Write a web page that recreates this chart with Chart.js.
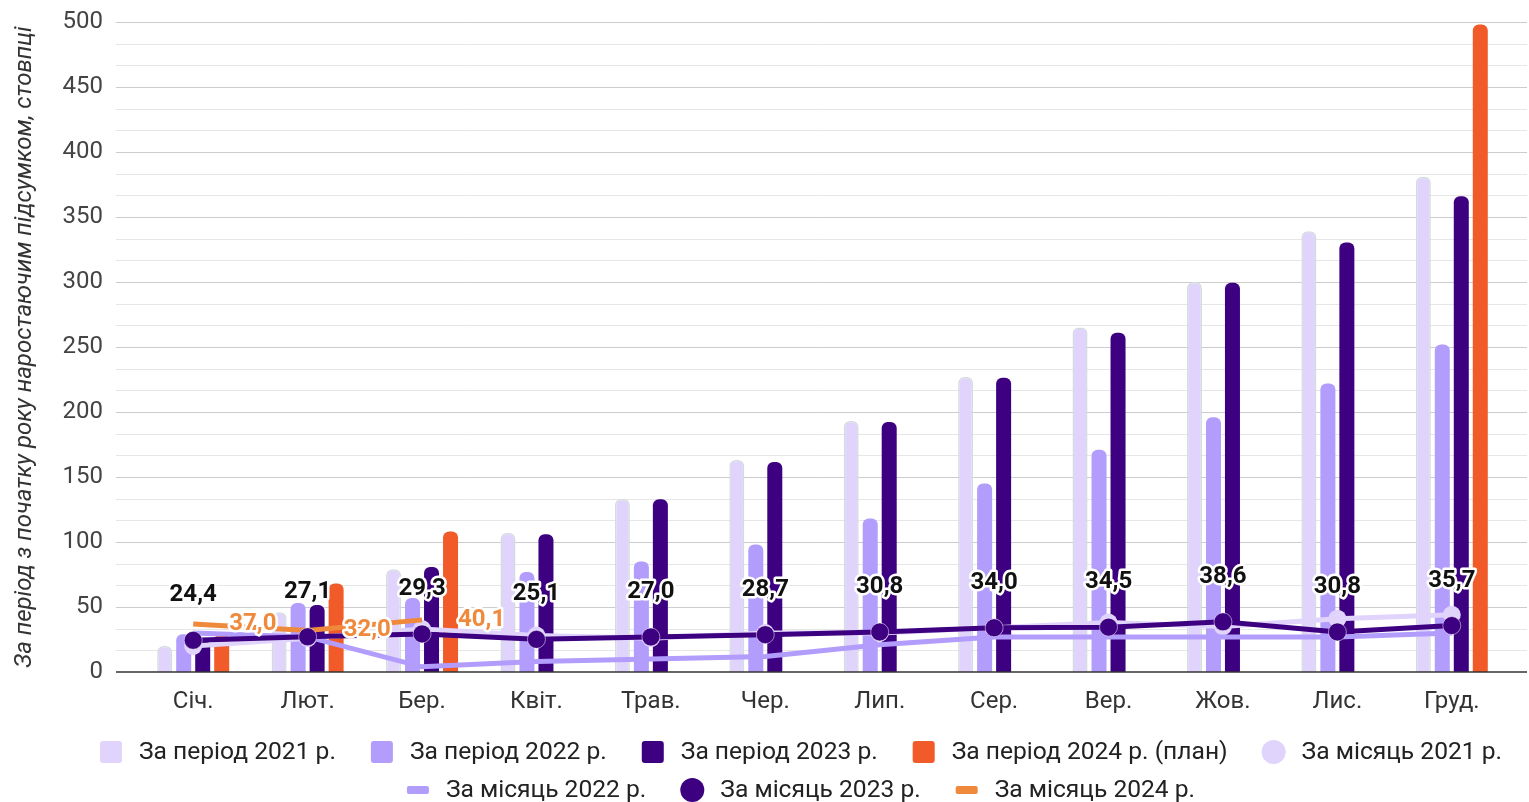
<!DOCTYPE html>
<html>
<head>
<meta charset="utf-8">
<script src="https://cdn.jsdelivr.net/npm/chart.js@4.4.1/dist/chart.umd.min.js"></script>
<style>
  html, body { margin: 0; padding: 0; background: #fff; }
  #wrap { width: 1529px; height: 802px; }
</style>
</head>
<body>
<div id="wrap"><canvas id="chart" width="1529" height="802"></canvas></div>
<script>
// months
const months = ['Січ.', 'Лют.', 'Бер.', 'Квіт.', 'Трав.', 'Чер.', 'Лип.', 'Сер.', 'Вер.', 'Жов.', 'Лис.', 'Груд.'];

// cumulative totals (bars)
const period2021 = [20, 46, 79, 107, 133, 163, 193, 227, 265, 300, 339, 381];
const period2022 = [29, 53, 57, 77, 85, 98, 118, 145, 171, 196, 222, 252];
const period2023 = [24.4, 51.5, 80.8, 105.9, 132.9, 161.6, 192.4, 226.4, 260.9, 299.5, 330.3, 366.0];
const period2024plan = [29, 68, 108, null, null, null, null, null, null, null, null, 498];

// monthly values (lines)
const month2021 = [20, 26, 33, 28, 26, 30, 30, 34, 38, 35, 41, 44];
const month2022 = [30, 27, 4, 8, 10, 12, 21, 27, 27, 27, 27, 30];
const month2023 = [24.4, 27.1, 29.3, 25.1, 27.0, 28.7, 30.8, 34.0, 34.5, 38.6, 30.8, 35.7];
const month2024 = [37.0, 32.0, 40.1, null, null, null, null, null, null, null, null, null];

const yTicksMax = 500;
const yTicksStep = 50;

const C_2021 = '#e0d3fc';
const C_2022 = '#b29cfc';
const C_2023 = '#3c0080';
const C_2024 = '#f15a29';
const C_2024_LINE = '#ef8a3d';

// legend marker per dataset, two rows like the original
const legendKinds = ['box', 'box', 'box', 'box', 'circle', 'line', 'circle', 'line'];
const legendColors = [C_2021, C_2022, C_2023, C_2024, C_2021, C_2022, C_2023, C_2024_LINE];
const legendRows = [[0, 1, 2, 3, 4], [5, 6, 7]];

const fmt = v => v.toFixed(1).replace('.', ',');

// gridlines: majors every 50, two minor lines in between, stretched a bit past the plot
const gridPlugin = {
    id: 'grid',
    beforeDatasetsDraw(chart) {
        const y = chart.scales.y;
        const area = chart.chartArea;
        const ctx = chart.ctx;
        ctx.save();
        for (let i = 1; i <= 30; i++) {
            const v = i * yTicksStep / 3;
            const py = Math.round(y.getPixelForValue(v)) + 0.5;
            ctx.strokeStyle = i % 3 === 0 ? '#cccccc' : '#e6e6e6';
            ctx.lineWidth = 1;
            ctx.beginPath();
            ctx.moveTo(area.left - 20, py);
            ctx.lineTo(area.right + 18, py);
            ctx.stroke();
        }
        ctx.restore();
    },
    afterDatasetsDraw(chart) {
        const y = chart.scales.y;
        const area = chart.chartArea;
        const ctx = chart.ctx;
        const py = y.getPixelForValue(0);
        ctx.save();
        ctx.strokeStyle = '#333';
        ctx.lineWidth = 1.5;
        ctx.beginPath();
        ctx.moveTo(area.left - 20, py);
        ctx.lineTo(area.right + 18, py);
        ctx.stroke();
        ctx.restore();
    }
};

// value labels for 2023 monthly (above) and 2024 monthly (right side)
const labelPlugin = {
    id: 'valueLabels',
    afterDatasetsDraw(chart) {
        const ctx = chart.ctx;
        ctx.save();
        ctx.font = 'bold 24px Roboto';
        ctx.lineJoin = 'round';
        ctx.lineWidth = 5;
        ctx.strokeStyle = '#fff';

        const m23 = chart.getDatasetMeta(6);
        ctx.textAlign = 'center';
        ctx.textBaseline = 'middle';
        m23.data.forEach((pt, i) => {
            const t = fmt(month2023[i]);
            ctx.strokeText(t, pt.x, pt.y - 45);
            ctx.fillStyle = '#111';
            ctx.fillText(t, pt.x, pt.y - 45);
        });

        const m24 = chart.getDatasetMeta(7);
        ctx.textAlign = 'left';
        m24.data.forEach((pt, i) => {
            if (month2024[i] == null) return;
            const t = fmt(month2024[i]);
            ctx.strokeText(t, pt.x + 36, pt.y);
            ctx.fillStyle = C_2024_LINE;
            ctx.fillText(t, pt.x + 36, pt.y);
        });
        ctx.restore();
    }
};

// legend drawn by hand so the rows sit where the original has them
const legendPlugin = {
    id: 'bottomLegend',
    afterDraw(chart) {
        const ctx = chart.ctx;
        const sets = chart.data.datasets;
        const rowY = [752, 790];
        const centerX = 801;
        ctx.save();
        ctx.font = '24.6px Roboto';
        ctx.textBaseline = 'middle';
        ctx.textAlign = 'left';
        legendRows.forEach((row, r) => {
            const widths = row.map(i => 22 + 17 + ctx.measureText(sets[i].label).width);
            const total = widths.reduce((a, b) => a + b, 0) + 35 * (row.length - 1);
            let x = centerX - total / 2;
            const y = rowY[r];
            row.forEach((i, k) => {
                ctx.fillStyle = legendColors[i];
                ctx.beginPath();
                if (legendKinds[i] === 'box') {
                    ctx.roundRect(x, y - 11, 22, 22, 3);
                } else if (legendKinds[i] === 'circle') {
                    ctx.arc(x + 11, y, 12, 0, Math.PI * 2);
                } else {
                    ctx.roundRect(x, y - 4, 22, 8, 2);
                }
                ctx.fill();
                ctx.fillStyle = '#222';
                ctx.fillText(sets[i].label, x + 39, y + 1);
                x += widths[k] + 35;
            });
        });
        ctx.restore();
    }
};

const barCommon = {
    type: 'bar',
    order: 5,
    categoryPercentage: 0.664,
    barPercentage: 0.79,
    borderRadius: { topLeft: 6, topRight: 6 },
    borderSkipped: 'start'
};

const ctx = document.getElementById('chart').getContext('2d');
const chart = new Chart(ctx, {
    data: {
        labels: months,
        datasets: [
            Object.assign({}, barCommon, {
                label: 'За період 2021 р.',
                data: period2021,
                backgroundColor: C_2021,
                borderColor: '#d2dcdc',
                borderWidth: 1.5
            }),
            Object.assign({}, barCommon, {
                label: 'За період 2022 р.',
                data: period2022,
                backgroundColor: C_2022
            }),
            Object.assign({}, barCommon, {
                label: 'За період 2023 р.',
                data: period2023,
                backgroundColor: C_2023
            }),
            Object.assign({}, barCommon, {
                label: 'За період 2024 р. (план)',
                data: period2024plan,
                backgroundColor: C_2024
            }),
            {
                type: 'line',
                order: 3,
                label: 'За місяць 2021 р.',
                data: month2021,
                borderColor: C_2021,
                backgroundColor: C_2021,
                borderWidth: 5,
                pointRadius: 9,
                pointBorderWidth: 0
            },
            {
                type: 'line',
                order: 2,
                label: 'За місяць 2022 р.',
                data: month2022,
                borderColor: C_2022,
                backgroundColor: C_2022,
                borderWidth: 5,
                pointRadius: 0
            },
            {
                type: 'line',
                order: 0,
                label: 'За місяць 2023 р.',
                data: month2023,
                borderColor: C_2023,
                backgroundColor: C_2023,
                borderWidth: 5,
                pointRadius: 9,
                pointBorderColor: 'rgba(255,255,255,0.5)',
                pointBorderWidth: 1
            },
            {
                type: 'line',
                order: 1,
                label: 'За місяць 2024 р.',
                data: month2024,
                borderColor: C_2024_LINE,
                backgroundColor: C_2024_LINE,
                borderWidth: 5,
                pointRadius: 0
            }
        ]
    },
    options: {
        responsive: false,
        animation: false,
        layout: { padding: { top: 22, right: 20, bottom: 77, left: 0 } },
        plugins: {
            tooltip: { enabled: false },
            legend: { display: false }
        },
        scales: {
            x: {
                grid: { display: false },
                border: { display: false },
                ticks: { color: '#333', font: { family: 'Roboto', size: 24 }, padding: 8, maxRotation: 0 },
                afterFit(scale) { scale.height = 53; }
            },
            y: {
                min: 0,
                max: yTicksMax,
                grid: { display: false, drawTicks: true, tickLength: 30 },
                border: { display: false },
                ticks: { stepSize: yTicksStep, color: '#444', font: { family: 'Roboto', size: 24 }, padding: 3 },
                title: {
                    display: true,
                    text: 'За період з початку року наростаючим підсумком, стовпці',
                    color: '#333',
                    font: { family: 'Roboto', size: 24, style: 'italic' },
                    padding: { top: 11, bottom: 0 }
                },
                afterFit(scale) { scale.width = 136; }
            }
        }
    },
    plugins: [gridPlugin, labelPlugin, legendPlugin]
});
</script>
</body>
</html>
